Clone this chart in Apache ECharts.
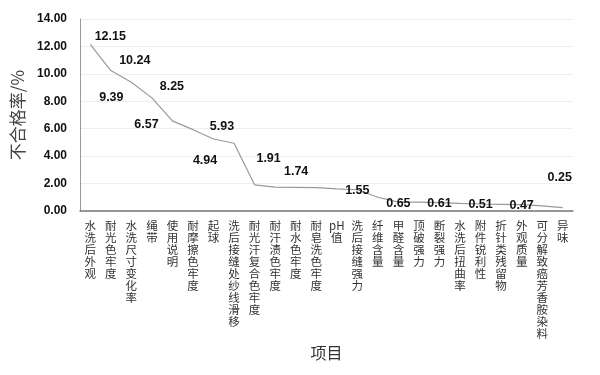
<!DOCTYPE html>
<html><head><meta charset="utf-8">
<script src="https://cdn.jsdelivr.net/npm/echarts@6/dist/echarts.min.js"></script>
<style>html,body{margin:0;padding:0;background:#fff}#c{width:600px;height:375px}</style>
</head><body><div id="c"></div>
<script>
var categories = ['水洗后外观','耐光色牢度','水洗尺寸变化率','绳带','使用说明','耐摩擦色牢度','起球','洗后接缝处纱线滑移','耐光汗复合色牢度','耐汗渍色牢度','耐水色牢度','耐皂洗色牢度','pH值','洗后接缝强力','纤维含量','甲醛含量','顶破强力','断裂强力','水洗后扭曲率','附件锐利性','折针类残留物','外观质量','可分解致癌芳香胺染料','异味'];
var values = [12.15,10.24,9.39,8.25,6.57,5.93,5.25,4.94,1.91,1.74,1.72,1.70,1.62,1.55,1.00,0.65,0.64,0.61,0.55,0.51,0.49,0.47,0.38,0.25];
var labeled = [true,true,true,true,true,true,false,true,true,true,false,false,false,true,false,true,false,true,false,true,false,true,false,true];
var yTicks = [0,2,4,6,8,10,12,14];
// label offsets (style only)
var labelOffsets = [[20,-8],[24,-10],[-20,15],[20,-11],[-26,4],[29,-3],[0,0],[-29,17],[14,-26],[21,-16],[0,0],[0,0],[0,0],[0,1],[0,0],[0,1],[0,0],[0,1],[0,0],[0,1],[0,0],[0,1],[0,0],[-3,-30]];

var seriesData = values.map(function(v,i){
  return {value:v, label:{show:labeled[i], offset:labelOffsets[i]}};
});

var chart = echarts.init(document.getElementById('c'));
chart.setOption({
  animation:false,
  backgroundColor:'#fff',
  grid:{left:80,right:27,top:19,bottom:164},
  xAxis:{
    type:'category', data:categories, boundaryGap:true,
    name:'项目', nameLocation:'middle', nameGap:132,
    nameTextStyle:{fontSize:16,color:'#333',fontFamily:'Noto Sans CJK SC'},
    axisLine:{lineStyle:{color:'#777',width:1.5}},
    axisTick:{show:false},
    axisLabel:{interval:0, margin:9, color:'#333', fontSize:11.5, lineHeight:12, fontFamily:'Noto Sans CJK SC', verticalAlign:'top',
      formatter:function(s){ if(s==='pH值') return 'pH\n值'; return s.split('').join('\n'); }}
  },
  yAxis:{
    type:'value', min:yTicks[0], max:yTicks[yTicks.length-1], interval:2,
    name:'不合格率/%', nameLocation:'middle', nameGap:48, nameRotate:90,
    nameTextStyle:{fontSize:17,color:'#444',fontFamily:'Noto Sans CJK SC'},
    axisLine:{show:true,lineStyle:{color:'#999',width:1}},
    axisTick:{show:false},
    splitLine:{lineStyle:{color:'#eeeeee',width:1}},
    axisLabel:{margin:13,color:'#111',fontSize:12,fontWeight:'bold',fontFamily:'Liberation Sans',
      formatter:function(v){return v.toFixed(2);}}
  },
  series:[{
    type:'line', data:seriesData,
    symbol:'circle', symbolSize:0, showSymbol:true,
    lineStyle:{color:'#999',width:1.2},
    itemStyle:{color:'#999'},
    label:{show:true, position:'inside', color:'#111', fontSize:12.5, fontWeight:'bold', fontFamily:'Liberation Sans',
      formatter:function(p){return p.value.toFixed(2);}}
  }]
});
</script></body></html>
